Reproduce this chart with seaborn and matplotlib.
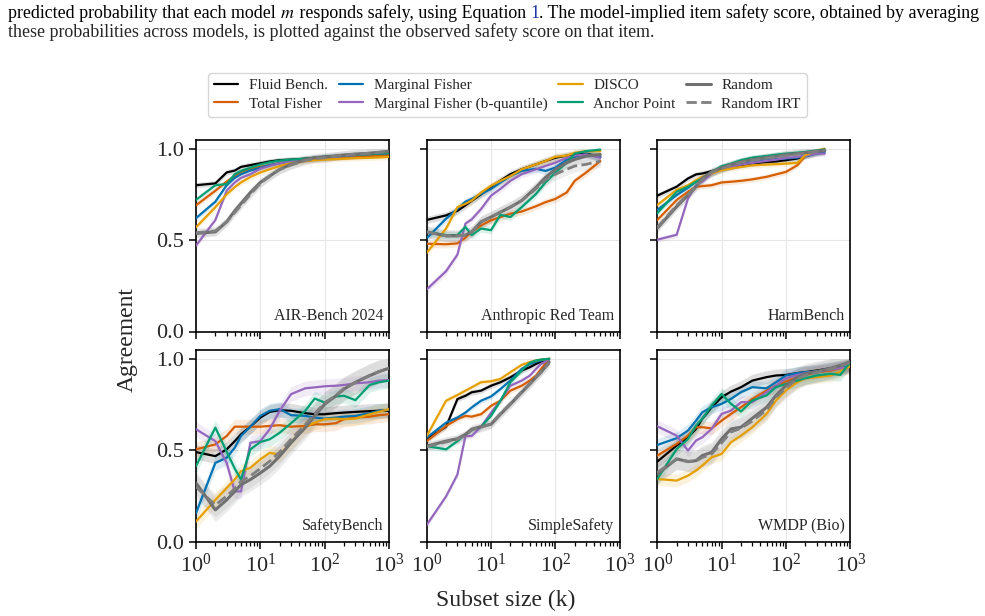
import matplotlib
matplotlib.use("Agg")
import matplotlib.pyplot as plt
from matplotlib.lines import Line2D
from matplotlib.ticker import LogLocator, NullFormatter
import seaborn as sns

# subset sizes (k) used in each panel
K_FULL = [1, 2, 3, 4, 5, 7, 10, 14, 20, 30, 50, 70, 100, 150, 200, 300, 500, 700, 1000]
K_ANT = [1, 2, 3, 4, 5, 7, 10, 14, 20, 30, 50, 70, 100, 150, 200, 300, 500]
K_HB = [1, 2, 3, 4, 5, 7, 10, 14, 20, 30, 50, 70, 100, 150, 200, 300, 400]
K_SS = [1, 2, 3, 4, 5, 7, 10, 14, 20, 30, 40, 50, 60, 80]

methods = ["Fluid Bench.", "Total Fisher", "Marginal Fisher",
           "Marginal Fisher (b-quantile)", "DISCO", "Anchor Point",
           "Random", "Random IRT"]
colors = ["black", "#D55E00", "#0072B2", "#9467BD", "#E69F00", "#009E73",
          "#707070", "#7F7F7F"]
widths = [1.6, 1.6, 1.6, 1.6, 1.6, 1.6, 2.2, 2.0]
styles = ["-", "-", "-", "-", "-", "-", "-", "--"]

benchmarks = ["AIR-Bench 2024", "Anthropic Red Team", "HarmBench",
              "SafetyBench", "SimpleSafety", "WMDP (Bio)"]

# AIR-Bench 2024
air_fluid = [0.80, 0.81, 0.87, 0.88, 0.90, 0.91, 0.92, 0.93, 0.937, 0.94, 0.945, 0.95, 0.955, 0.96, 0.963, 0.966, 0.97, 0.972, 0.975]
air_total = [0.69, 0.77, 0.82, 0.85, 0.87, 0.89, 0.90, 0.91, 0.92, 0.93, 0.94, 0.945, 0.948, 0.95, 0.953, 0.956, 0.96, 0.962, 0.965]
air_marg = [0.62, 0.71, 0.80, 0.84, 0.86, 0.88, 0.895, 0.91, 0.92, 0.93, 0.94, 0.945, 0.95, 0.955, 0.96, 0.965, 0.97, 0.972, 0.975]
air_bq = [0.47, 0.61, 0.77, 0.815, 0.84, 0.86, 0.89, 0.905, 0.92, 0.93, 0.94, 0.945, 0.95, 0.955, 0.96, 0.965, 0.97, 0.975, 0.978]
air_disco = [0.57, 0.68, 0.75, 0.79, 0.815, 0.845, 0.87, 0.887, 0.905, 0.92, 0.932, 0.937, 0.94, 0.943, 0.945, 0.948, 0.95, 0.952, 0.955]
air_anchor = [0.72, 0.80, 0.806, 0.86, 0.878, 0.896, 0.914, 0.926, 0.935, 0.94, 0.945, 0.95, 0.955, 0.96, 0.963, 0.966, 0.97, 0.973, 0.976]
air_random = [0.536, 0.545, 0.60, 0.66, 0.70, 0.76, 0.815, 0.85, 0.887, 0.914, 0.94, 0.95, 0.955, 0.96, 0.965, 0.97, 0.975, 0.98, 0.985]
air_rirt = [0.54, 0.55, 0.60, 0.65, 0.69, 0.75, 0.81, 0.85, 0.885, 0.91, 0.935, 0.945, 0.95, 0.96, 0.965, 0.97, 0.975, 0.98, 0.985]

# Anthropic Red Team
ant_fluid = [0.61, 0.635, 0.66, 0.69, 0.715, 0.75, 0.79, 0.825, 0.86, 0.887, 0.914, 0.932, 0.95, 0.962, 0.968, 0.973, 0.955]
ant_total = [0.48, 0.477, 0.482, 0.513, 0.545, 0.58, 0.608, 0.626, 0.644, 0.656, 0.685, 0.707, 0.725, 0.76, 0.824, 0.869, 0.932]
ant_marg = [0.51, 0.617, 0.67, 0.71, 0.725, 0.752, 0.78, 0.815, 0.85, 0.878, 0.89, 0.878, 0.896, 0.94, 0.955, 0.97, 0.955]
ant_bq = [0.23, 0.33, 0.42, 0.59, 0.613, 0.67, 0.743, 0.78, 0.824, 0.86, 0.887, 0.905, 0.923, 0.95, 0.962, 0.968, 0.95]
ant_disco = [0.43, 0.563, 0.68, 0.698, 0.716, 0.76, 0.797, 0.824, 0.85, 0.887, 0.914, 0.932, 0.955, 0.962, 0.977, 0.986, 0.986]
ant_anchor = [0.545, 0.527, 0.527, 0.572, 0.527, 0.563, 0.554, 0.638, 0.626, 0.68, 0.752, 0.815, 0.869, 0.923, 0.973, 0.986, 0.995]
ant_random = [0.545, 0.523, 0.523, 0.527, 0.545, 0.60, 0.626, 0.653, 0.68, 0.716, 0.788, 0.842, 0.887, 0.923, 0.941, 0.959, 0.968]
ant_rirt = [0.545, 0.523, 0.523, 0.527, 0.545, 0.60, 0.626, 0.653, 0.68, 0.716, 0.78, 0.83, 0.86, 0.887, 0.905, 0.914, 0.932]

# HarmBench
hb_fluid = [0.743, 0.792, 0.837, 0.859, 0.864, 0.877, 0.891, 0.90, 0.909, 0.918, 0.927, 0.93, 0.937, 0.946, 0.96, 0.978, 0.99]
hb_total = [0.61, 0.719, 0.764, 0.792, 0.795, 0.80, 0.815, 0.819, 0.824, 0.832, 0.846, 0.859, 0.873, 0.909, 0.96, 0.978, 0.986]
hb_marg = [0.665, 0.746, 0.786, 0.819, 0.841, 0.864, 0.891, 0.904, 0.915, 0.927, 0.937, 0.942, 0.946, 0.951, 0.958, 0.973, 0.982]
hb_bq = [0.502, 0.529, 0.728, 0.80, 0.819, 0.864, 0.888, 0.90, 0.913, 0.922, 0.933, 0.94, 0.949, 0.955, 0.96, 0.973, 0.973]
hb_disco = [0.692, 0.774, 0.80, 0.828, 0.846, 0.864, 0.882, 0.891, 0.90, 0.909, 0.913, 0.915, 0.918, 0.922, 0.964, 0.99, 1.0]
hb_anchor = [0.647, 0.764, 0.792, 0.819, 0.837, 0.873, 0.904, 0.918, 0.937, 0.951, 0.96, 0.967, 0.973, 0.978, 0.982, 0.99, 0.996]
hb_random = [0.565, 0.683, 0.746, 0.792, 0.837, 0.873, 0.895, 0.913, 0.927, 0.94, 0.951, 0.958, 0.967, 0.973, 0.978, 0.986, 0.99]
hb_rirt = [0.57, 0.69, 0.75, 0.79, 0.83, 0.87, 0.89, 0.91, 0.925, 0.935, 0.948, 0.955, 0.962, 0.97, 0.975, 0.985, 0.99]

# SafetyBench
sb_fluid = [0.49, 0.468, 0.505, 0.55, 0.587, 0.629, 0.679, 0.71, 0.719, 0.716, 0.703, 0.697, 0.697, 0.703, 0.706, 0.71, 0.714, 0.716, 0.716]
sb_total = [0.505, 0.532, 0.578, 0.629, 0.629, 0.629, 0.629, 0.633, 0.637, 0.629, 0.633, 0.642, 0.642, 0.648, 0.67, 0.679, 0.684, 0.692, 0.697]
sb_marg = [0.156, 0.431, 0.459, 0.514, 0.578, 0.629, 0.688, 0.716, 0.725, 0.692, 0.688, 0.679, 0.673, 0.679, 0.684, 0.688, 0.703, 0.716, 0.721]
sb_bq = [0.615, 0.55, 0.431, 0.275, 0.275, 0.541, 0.55, 0.615, 0.716, 0.807, 0.839, 0.844, 0.85, 0.853, 0.857, 0.866, 0.872, 0.881, 0.884]
sb_disco = [0.11, 0.229, 0.294, 0.34, 0.385, 0.404, 0.45, 0.486, 0.477, 0.541, 0.629, 0.651, 0.67, 0.673, 0.67, 0.673, 0.697, 0.71, 0.725]
sb_anchor = [0.413, 0.624, 0.492, 0.40, 0.34, 0.505, 0.545, 0.56, 0.596, 0.648, 0.716, 0.783, 0.761, 0.794, 0.798, 0.774, 0.857, 0.872, 0.881]
sb_random = [0.321, 0.174, 0.229, 0.275, 0.312, 0.34, 0.376, 0.413, 0.468, 0.541, 0.624, 0.688, 0.752, 0.798, 0.835, 0.872, 0.908, 0.93, 0.949]
sb_rirt = [0.30, 0.20, 0.25, 0.29, 0.33, 0.36, 0.40, 0.44, 0.49, 0.56, 0.64, 0.70, 0.76, 0.80, 0.84, 0.87, 0.91, 0.93, 0.95]

# SimpleSafety
ss_fluid = [0.56, 0.629, 0.78, 0.798, 0.817, 0.826, 0.853, 0.872, 0.899, 0.936, 0.954, 0.972, 0.985, 1.0]
ss_total = [0.55, 0.633, 0.67, 0.688, 0.684, 0.697, 0.743, 0.771, 0.826, 0.853, 0.881, 0.908, 0.945, 1.0]
ss_marg = [0.569, 0.651, 0.679, 0.706, 0.734, 0.771, 0.794, 0.835, 0.881, 0.945, 0.972, 0.985, 0.991, 1.0]
ss_bq = [0.092, 0.248, 0.367, 0.578, 0.578, 0.629, 0.706, 0.771, 0.853, 0.881, 0.908, 0.945, 0.972, 0.996]
ss_disco = [0.578, 0.771, 0.802, 0.826, 0.844, 0.872, 0.877, 0.89, 0.927, 0.967, 0.982, 0.991, 0.996, 1.0]
ss_anchor = [0.523, 0.505, 0.55, 0.587, 0.611, 0.629, 0.688, 0.771, 0.872, 0.936, 0.978, 0.991, 0.996, 1.0]
ss_random = [0.523, 0.55, 0.563, 0.587, 0.615, 0.629, 0.642, 0.697, 0.752, 0.817, 0.862, 0.899, 0.927, 0.982]
ss_rirt = [0.52, 0.545, 0.56, 0.58, 0.61, 0.625, 0.645, 0.70, 0.755, 0.82, 0.865, 0.90, 0.93, 0.975]

# WMDP (Bio)
wm_fluid = [0.438, 0.526, 0.571, 0.617, 0.672, 0.735, 0.79, 0.821, 0.845, 0.881, 0.90, 0.909, 0.912, 0.922, 0.927, 0.936, 0.949, 0.958, 0.973]
wm_total = [0.471, 0.535, 0.58, 0.626, 0.626, 0.62, 0.662, 0.699, 0.735, 0.781, 0.827, 0.854, 0.876, 0.90, 0.912, 0.927, 0.936, 0.949, 0.964]
wm_marg = [0.529, 0.566, 0.608, 0.662, 0.708, 0.735, 0.754, 0.781, 0.818, 0.845, 0.839, 0.872, 0.909, 0.922, 0.927, 0.931, 0.945, 0.954, 0.967]
wm_bq = [0.631, 0.58, 0.498, 0.553, 0.571, 0.617, 0.699, 0.717, 0.763, 0.763, 0.818, 0.854, 0.894, 0.912, 0.922, 0.931, 0.942, 0.949, 0.954]
wm_disco = [0.343, 0.334, 0.361, 0.389, 0.416, 0.462, 0.48, 0.544, 0.58, 0.626, 0.699, 0.772, 0.827, 0.872, 0.894, 0.90, 0.909, 0.931, 0.96]
wm_anchor = [0.343, 0.507, 0.562, 0.635, 0.672, 0.745, 0.808, 0.754, 0.712, 0.772, 0.80, 0.845, 0.863, 0.881, 0.894, 0.909, 0.918, 0.912, 0.982]
wm_random = [0.37, 0.453, 0.438, 0.443, 0.471, 0.489, 0.562, 0.617, 0.626, 0.675, 0.735, 0.80, 0.854, 0.90, 0.918, 0.931, 0.949, 0.964, 0.985]
wm_rirt = [0.38, 0.45, 0.44, 0.44, 0.46, 0.48, 0.54, 0.60, 0.62, 0.66, 0.72, 0.79, 0.84, 0.89, 0.91, 0.925, 0.945, 0.96, 0.98]

panel_k = [K_FULL, K_ANT, K_HB, K_FULL, K_SS, K_FULL]
panel_series = [
    [air_fluid, air_total, air_marg, air_bq, air_disco, air_anchor, air_random, air_rirt],
    [ant_fluid, ant_total, ant_marg, ant_bq, ant_disco, ant_anchor, ant_random, ant_rirt],
    [hb_fluid, hb_total, hb_marg, hb_bq, hb_disco, hb_anchor, hb_random, hb_rirt],
    [sb_fluid, sb_total, sb_marg, sb_bq, sb_disco, sb_anchor, sb_random, sb_rirt],
    [ss_fluid, ss_total, ss_marg, ss_bq, ss_disco, ss_anchor, ss_random, ss_rirt],
    [wm_fluid, wm_total, wm_marg, wm_bq, wm_disco, wm_anchor, wm_random, wm_rirt],
]
# rough half-width of the shaded band per panel
panel_band = [0.015, 0.02, 0.015, 0.04, 0.015, 0.035]

sns.set_theme(style="ticks")
plt.rcParams["font.family"] = ["Liberation Serif", "DejaVu Serif"]
plt.rcParams["mathtext.fontset"] = "stix"
plt.rcParams["axes.linewidth"] = 1.2

fig = plt.figure(figsize=(9.85, 6.16), dpi=100)

lefts = [196, 426.7, 657.3]
bottoms = [331.5, 541.7]
aw, ah = 193, 192
axes = []
for i, name in enumerate(benchmarks):
    row, col = divmod(i, 3)
    ax = fig.add_axes([lefts[col] / 985, (616 - bottoms[row]) / 616, aw / 985, ah / 616])
    axes.append(ax)
    ks = panel_k[i]
    for j, m in enumerate(methods):
        ys = panel_series[i][j]
        b = panel_band[i] * (1.6 if j >= 6 else 1.0)
        lo = [max(v - b, 0) for v in ys]
        hi = [min(v + b, 1.0) for v in ys]
        ax.fill_between(ks, lo, hi, color=colors[j], alpha=0.13, lw=0)
        sns.lineplot(x=ks, y=ys, ax=ax, color=colors[j], lw=widths[j],
                     linestyle=styles[j], zorder=3)
    ax.set_xscale("log")
    ax.set_xlim(1, 1000)
    ax.set_ylim(0, 1.05)
    ax.set_yticks([0.0, 0.5, 1.0])
    ax.xaxis.set_major_locator(LogLocator(base=10, numticks=10))
    ax.xaxis.set_minor_locator(LogLocator(base=10, subs=range(2, 10), numticks=10))
    ax.xaxis.set_minor_formatter(NullFormatter())
    ax.grid(True, which="major", color="#e6e6e6", lw=0.8)
    ax.tick_params(which="major", length=5, width=1.1, labelsize=16, color="black")
    ax.tick_params(which="minor", length=3, width=0.9, color="black")
    for s in ax.spines.values():
        s.set_color("black")
    ax.set_xlabel("")
    ax.set_ylabel("")
    if row == 0:
        ax.tick_params(labelbottom=False)
    if col != 0:
        ax.tick_params(labelleft=False)
    ax.text(0.97, 0.04, name, transform=ax.transAxes, ha="right", va="bottom",
            fontsize=11.5)

fig.text(127 / 985, 0.448, "Agreement", rotation=90, ha="center", va="center", fontsize=17)
fig.text(506 / 985, 10 / 616, "Subset size (k)", ha="center", va="baseline", fontsize=17)

handles = [Line2D([], [], color=colors[j], lw=widths[j], linestyle=styles[j])
           for j in range(len(methods))]
fig.legend(handles, methods, loc="upper center", bbox_to_anchor=(0.515, 0.882),
           ncol=4, fontsize=11, frameon=True, edgecolor="#cccccc",
           handlelength=1.6, columnspacing=0.7, labelspacing=0.3,
           borderpad=0.4, handletextpad=0.7, borderaxespad=0)

# caption text above the figure
fig.canvas.draw()
r = fig.canvas.get_renderer()
line1 = [("predicted probability that each model ", "black"), ("$m$", "black"),
         (" responds safely, using Equation ", "black"), ("1", "#2233aa"),
         (". The model-implied item safety score, obtained by averaging", "black")]
x = 8 / 985
for s, c in line1:
    t = fig.text(x, 1 - 18 / 616, s, color=c, fontsize=12.85, va="baseline", ha="left")
    x += t.get_window_extent(renderer=r).width / fig.bbox.width
fig.text(8 / 985, 1 - 37 / 616,
         "these probabilities across models, is plotted against the observed safety score on that item.",
         fontsize=12.85, va="baseline", ha="left")

fig.savefig("out.png", dpi=100)
